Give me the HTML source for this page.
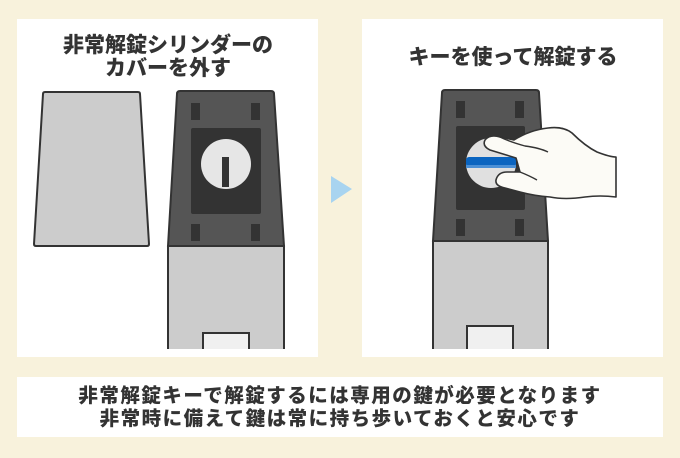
<!DOCTYPE html>
<html><head><meta charset="utf-8"><style>
html,body{margin:0;padding:0;background:#f8f2dc;}
svg{display:block}
text{font-family:"Liberation Sans","Noto Sans CJK JP",sans-serif;font-weight:900;fill:#333;}
</style></head><body>
<svg width="680" height="458" viewBox="0 0 680 458" xmlns="http://www.w3.org/2000/svg">
<rect width="680" height="458" fill="#f8f2dc"/>
<rect x="17" y="19" width="301" height="338" fill="#fff"/>
<rect x="362" y="19" width="301" height="338" fill="#fff"/>
<rect x="17" y="377" width="646" height="60" fill="#fff"/>

<text x="168" y="52" font-size="21" text-anchor="middle">非常解錠シリンダーの</text>
<text x="168" y="75" font-size="21" text-anchor="middle">カバーを外す</text>
<text x="513" y="64" font-size="21" text-anchor="middle">キーを使って解錠する</text>

<!-- cover -->
<path d="M45,92 L138,92 Q140,92 140,94 L149,244 Q149,246 147,246 L36,246 Q34,246 34,244 L43,94 Q43,92 45,92Z" fill="#ccc" stroke="#333" stroke-width="2"/>

<!-- left lock -->
<rect x="168" y="246" width="116" height="104" fill="#ccc" stroke="#333" stroke-width="2"/>
<path d="M180,91 L271,91 Q274,91 274,94 L284,246 L168,246 L177,94 Q177,91 180,91Z" fill="#555" stroke="#333" stroke-width="2"/>
<rect x="191" y="128" width="70" height="86" rx="2" fill="#333"/>
<rect x="191" y="103" width="9" height="17" fill="#333"/>
<rect x="251" y="103" width="9" height="17" fill="#333"/>
<rect x="191" y="224" width="9" height="17" fill="#333"/>
<rect x="251" y="224" width="9" height="17" fill="#333"/>
<circle cx="226" cy="164" r="25" fill="#e6e6e6"/>
<rect x="222" y="157" width="7" height="30" fill="#333"/>
<rect x="203" y="333" width="46" height="18" fill="#f0f0f0" stroke="#333" stroke-width="2"/>
<rect x="160" y="349" width="140" height="8" fill="#fff"/>

<!-- arrow -->
<path d="M331,176 L352,189 L331,203Z" fill="#a8d4f0"/>

<!-- right lock -->
<rect x="433" y="241" width="115" height="109" fill="#ccc" stroke="#333" stroke-width="2"/>
<path d="M445,90 L536,90 Q539,90 539,93 L548,241 L433,241 L442,93 Q442,90 445,90Z" fill="#555" stroke="#333" stroke-width="2"/>
<rect x="456" y="126" width="69" height="84" rx="2" fill="#333"/>
<rect x="456" y="101" width="9" height="17" fill="#333"/>
<rect x="515" y="101" width="9" height="17" fill="#333"/>
<rect x="456" y="219" width="9" height="17" fill="#333"/>
<rect x="515" y="219" width="9" height="17" fill="#333"/>
<rect x="467" y="326" width="46" height="25" fill="#f0f0f0" stroke="#333" stroke-width="2"/>
<rect x="425" y="349" width="140" height="8" fill="#fff"/>
<!-- key cylinder -->
<circle cx="491" cy="163" r="25" fill="#e0e0e0"/>
<rect x="466" y="157" width="50" height="10" rx="3" fill="#0a64c0"/>
<rect x="466" y="165" width="50" height="3" fill="#4a8fd6"/>
<!-- hand -->
<path d="M514,140 Q530,130 548,128 Q563,126 572,133 Q585,146 597,152 Q610,157 616,157 L616,197 Q600,195 585,197 Q565,200 550,197 Q535,196 520,192 L505,188 Q495,186 496,180 Q498,172 507,172 L520,172 Q518,165 516,158 L490,150 Q482,146 485,140 Q490,134 500,137 Z" fill="#fcfbf6" stroke="#333" stroke-width="1.6" stroke-linejoin="round"/>
<path d="M500,137 Q510,142 525,146 Q540,148 548,152" fill="none" stroke="#333" stroke-width="1.4"/>
<path d="M520,172 Q530,176 537,180" fill="none" stroke="#333" stroke-width="1.4"/>

<text x="340" y="402" font-size="19.5" text-anchor="middle" letter-spacing="1.5">非常解錠キーで解錠するには専用の鍵が必要となります</text>
<text x="340" y="425" font-size="19.5" text-anchor="middle" letter-spacing="1.5">非常時に備えて鍵は常に持ち歩いておくと安心です</text>
</svg>
</body></html>
